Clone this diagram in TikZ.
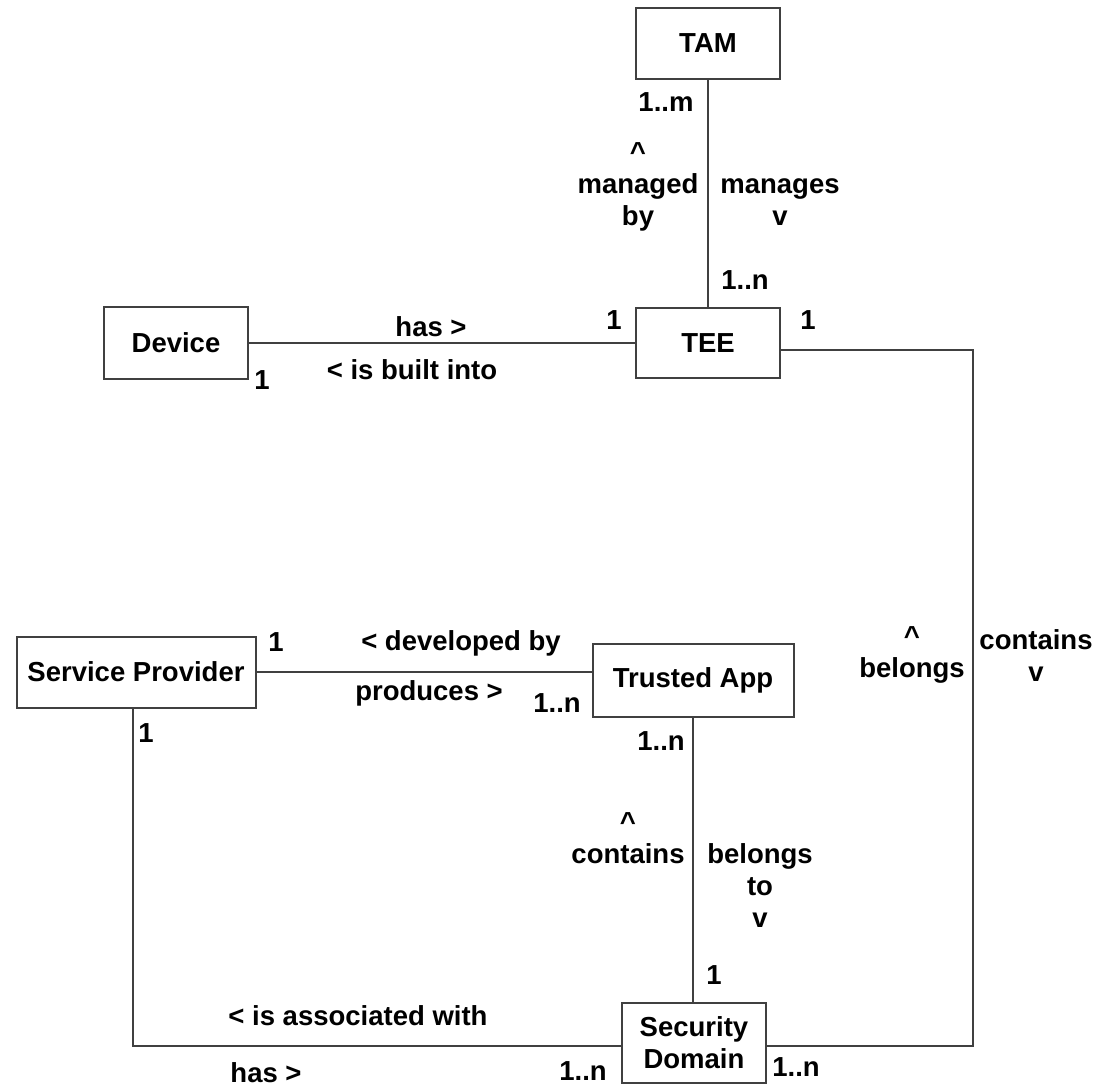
\documentclass[tikz,border=0pt]{standalone}
\usepackage{fontspec}
\setmainfont{Liberation Sans}
\tikzset{
	entity/.style={draw=black!75, line width=2pt, fill=white, font=\fontsize{27.5}{32}\selectfont\bfseries, align=center, inner sep=0pt},
	lbl/.style={font=\fontsize{27.5}{32}\selectfont\bfseries, align=center, inner sep=0pt},
	assoc/.style={draw=black!75, line width=2pt}
}
\begin{document}
\begin{tikzpicture}[x=1pt,y=-1pt]
	\useasboundingbox (0,0) rectangle (1097,1088);
	% classes
	\node[entity, minimum width=144pt, minimum height=71pt] (tam) at (708,43) {TAM};
	\node[entity, minimum width=144pt, minimum height=70pt] (tee) at (708,343) {TEE};
	\node[entity, minimum width=144pt, minimum height=72pt] (device) at (176,343) {Device};
	\node[entity, minimum width=239pt, minimum height=71pt] (sp) at (136,672) {Service Provider};
	\node[entity, minimum width=201pt, minimum height=73pt] (ta) at (693,680) {Trusted App};
	\node[entity, minimum width=144pt, minimum height=80pt] (sd) at (694,1043) {Security\\Domain};
	\coordinate (bend) at (973,350);
	% associations
	\draw[assoc] (tam) -- (tee);
	\draw[assoc] (device.east) -- (tee.west);
	\draw[assoc] (sp.east) -- (sp.east -| ta.west);
	\draw[assoc] (ta.south) -- (ta.south |- sd.north);
	\draw[assoc] ([xshift=-3pt]sp.south) |- ([yshift=-3pt]sd.west);
	\draw[assoc] (tee.east |- bend) -- (bend) |- ([yshift=-3pt]sd.east);
	% TAM -- TEE
	\node[lbl] (m1) at (666,102) {1..m};
	\node[lbl] (mby) at (638,187) {\^{}\\managed\\by};
	\node[lbl] (mgs) at (780,202) {manages\\v};
	\node[lbl] (n1) at (745,280) {1..n};
	% Device -- TEE
	\node[lbl] (tl) at (614,320) {1};
	\node[lbl] (tr) at (808,320) {1};
	\node[lbl] (has1) at (431,327) {has >};
	\node[lbl] (bin) at (412,370) {< is built into};
	\node[lbl] (d1) at (262,380) {1};
	% SP -- TA
	\node[lbl] (sp1) at (276,642) {1};
	\node[lbl] (dev) at (461,643) {< developed by};
	\node[lbl] (prod) at (429,693) {produces >};
	\node[lbl] (ta1) at (557,703) {1..n};
	\node[lbl] (sp2) at (146,733) {1};
	\node[lbl] (ta2) at (661,741) {1..n};
	% TA -- SD
	\node[lbl] (cont) at (628,838) {\^{}\\contains};
	\node[lbl] (bto) at (760,886) {belongs\\to\\v};
	\node[lbl] (sd1) at (714,975) {1};
	% TEE -- SD
	\node[lbl] (bel) at (912,655) {\^{}\\belongs};
	\node[lbl] (cv) at (1036,656) {contains\\v};
	% SP -- SD
	\node[lbl] (assw) at (358,1016) {< is associated with};
	\node[lbl] (has2) at (266,1073) {has >};
	\node[lbl] (sd2) at (583,1071) {1..n};
	\node[lbl] (sd3) at (796,1067) {1..n};
\end{tikzpicture}
\end{document}
